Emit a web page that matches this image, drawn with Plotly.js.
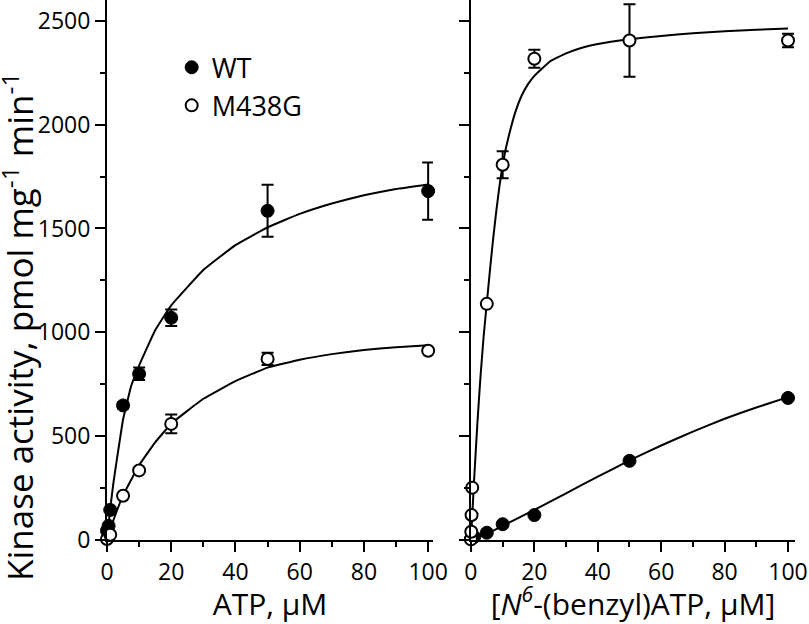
<!DOCTYPE html>
<html>
<head>
<meta charset="utf-8">
<script src="https://cdn.plot.ly/plotly-3.0.1.min.js"></script>
<style>
  body { margin: 0; background: #fff; }
  #plot { width: 809px; height: 624px; }
</style>
</head>
<body>
<div id="plot"></div>
<script>
// ---- left panel: ATP ----
var atpWtX = [0, 0.5, 1, 5, 10, 20, 50, 100];
var atpWtY = [45, 68, 145, 648, 800, 1070, 1585, 1680];
var atpWtErr = [0, 0, 0, 15, 30, 40, 125, 138];

var atpMutX = [0, 1, 5, 10, 20, 50, 100];
var atpMutY = [5, 25, 213, 335, 559, 872, 911];
var atpMutErr = [0, 0, 0, 0, 45, 30, 0];

// fitted curves
var atpWtFitX = [0, 1, 2, 3, 5, 7.5, 10, 15, 20, 30, 40, 50, 60, 70, 80, 90, 100];
var atpWtFitY = [0, 150, 275, 380, 580, 740, 840, 1010, 1130, 1300, 1420, 1505, 1570, 1620, 1660, 1690, 1712];
var atpMutFitX = [0, 2, 5, 10, 15, 20, 30, 40, 50, 60, 70, 80, 90, 100];
var atpMutFitY = [0, 95, 215, 360, 470, 560, 680, 765, 830, 868, 895, 915, 928, 938];

// ---- right panel: N6-(benzyl)ATP ----
var bzWtX = [0, 1, 5, 10, 20, 50, 100];
var bzWtY = [5, 15, 35, 76, 120, 381, 684];

var bzMutX = [0, 0.1, 0.2, 0.4, 5, 10, 20, 50, 100];
var bzMutY = [3, 40, 120, 252, 1137, 1807, 2317, 2405, 2405];
var bzMutErr = [0, 0, 0, 0, 0, 65, 43, 175, 32];

var bzWtFitX = [0, 5, 10, 20, 30, 40, 50, 60, 70, 80, 90, 100];
var bzWtFitY = [0, 30, 68, 145, 225, 305, 383, 455, 522, 584, 638, 688];
var bzMutFitX = [0, 1, 2, 3, 4, 5, 6, 7, 8, 9, 10, 11, 12, 14, 16, 18, 20, 25, 30, 35, 40, 50, 60, 70, 80, 90, 100];
var bzMutFitY = [0, 290, 555, 785, 980, 1140, 1300, 1450, 1585, 1705, 1805, 1885, 1950, 2060, 2140, 2195, 2235, 2305, 2343, 2370, 2388, 2411, 2427, 2440, 2450, 2457, 2463];

var FONT = "Open Sans, sans-serif";

function fit(x, y, xa, ya) {
  return {
    x: x, y: y, xaxis: xa, yaxis: ya,
    mode: "lines", line: { color: "black", width: 2, shape: "spline", smoothing: 0.3 },
    showlegend: false, hoverinfo: "skip", cliponaxis: false
  };
}

function pts(x, y, err, filled, xa, ya, name, legend) {
  var tr = {
    x: x, y: y, xaxis: xa, yaxis: ya, name: name,
    mode: "markers", cliponaxis: false, showlegend: legend,
    marker: filled
      ? { symbol: "circle", size: 13, color: "black", line: { color: "black", width: 1 } }
      : { symbol: "circle", size: 12, color: "white", line: { color: "black", width: 2 } }
  };
  if (err) {
    tr.error_y = { type: "data", array: err, visible: true, color: "black", thickness: 2, width: 6 };
  }
  return tr;
}

var data = [
  fit(atpWtFitX, atpWtFitY, "x", "y"),
  fit(atpMutFitX, atpMutFitY, "x", "y"),
  fit(bzWtFitX, bzWtFitY, "x2", "y2"),
  fit(bzMutFitX, bzMutFitY, "x2", "y2"),
  pts(atpWtX, atpWtY, atpWtErr, true, "x", "y", "WT", true),
  pts(atpMutX, atpMutY, atpMutErr, false, "x", "y", "M438G", true),
  pts(bzWtX, bzWtY, null, true, "x2", "y2", "WT", false),
  pts(bzMutX, bzMutY, bzMutErr, false, "x2", "y2", "M438G", false)
];

var xBase = {
  range: [0, 101.5], showline: true, linewidth: 2, linecolor: "black",
  showgrid: false, zeroline: false, ticks: "outside", ticklen: 10, tickwidth: 2,
  tickcolor: "black", dtick: 20, tick0: 0,
  minor: { dtick: 10, ticks: "outside", ticklen: 5, tickwidth: 2, tickcolor: "black" },
  tickfont: { family: FONT, size: 23, color: "black" },
  automargin: false
};
var yBase = {
  range: [0, 2600], showline: true, linewidth: 2, linecolor: "black",
  showgrid: false, zeroline: false, ticks: "outside", ticklen: 10, tickwidth: 2,
  tickcolor: "black", dtick: 500, tick0: 0,
  minor: { dtick: 250, ticks: "outside", ticklen: 5, tickwidth: 2, tickcolor: "black" },
  tickfont: { family: FONT, size: 23, color: "black" },
  automargin: false
};

var layout = {
  width: 809, height: 624,
  margin: { l: 107, r: 14, t: 0, b: 84 },
  paper_bgcolor: "white", plot_bgcolor: "white",
  font: { family: FONT, color: "black" },
  xaxis: Object.assign({}, xBase, {
    domain: [0, 0.4738], anchor: "y",
    title: { text: "ATP, μM", font: { family: FONT, size: 30 }, standoff: 12 }
  }),
  xaxis2: Object.assign({}, xBase, {
    range: [0, 102.2], domain: [0.529, 1], anchor: "y2",
    title: { text: "[<i>N</i><sup><i>6</i></sup>-(benzyl)ATP, μM]", font: { family: FONT, size: 30 }, standoff: 12 }
  }),
  yaxis: Object.assign({}, yBase, { anchor: "x" }),
  yaxis2: Object.assign({}, yBase, { anchor: "x2", showticklabels: false }),
  legend: {
    x: 0.094, y: 0.92, xanchor: "left", yanchor: "top",
    bgcolor: "rgba(0,0,0,0)", font: { family: FONT, size: 27, color: "black" },
    traceorder: "normal"
  },
  annotations: [{
    text: "Kinase activity, pmol mg<sup>-1</sup> min<sup>-1</sup>",
    xref: "paper", yref: "paper", x: -0.129, y: 0.395,
    xanchor: "center", yanchor: "middle", textangle: -90, showarrow: false,
    font: { family: FONT, size: 35, color: "black" }
  }]
};

Plotly.newPlot("plot", data, layout, { displayModeBar: false, staticPlot: true });
</script>
</body>
</html>
